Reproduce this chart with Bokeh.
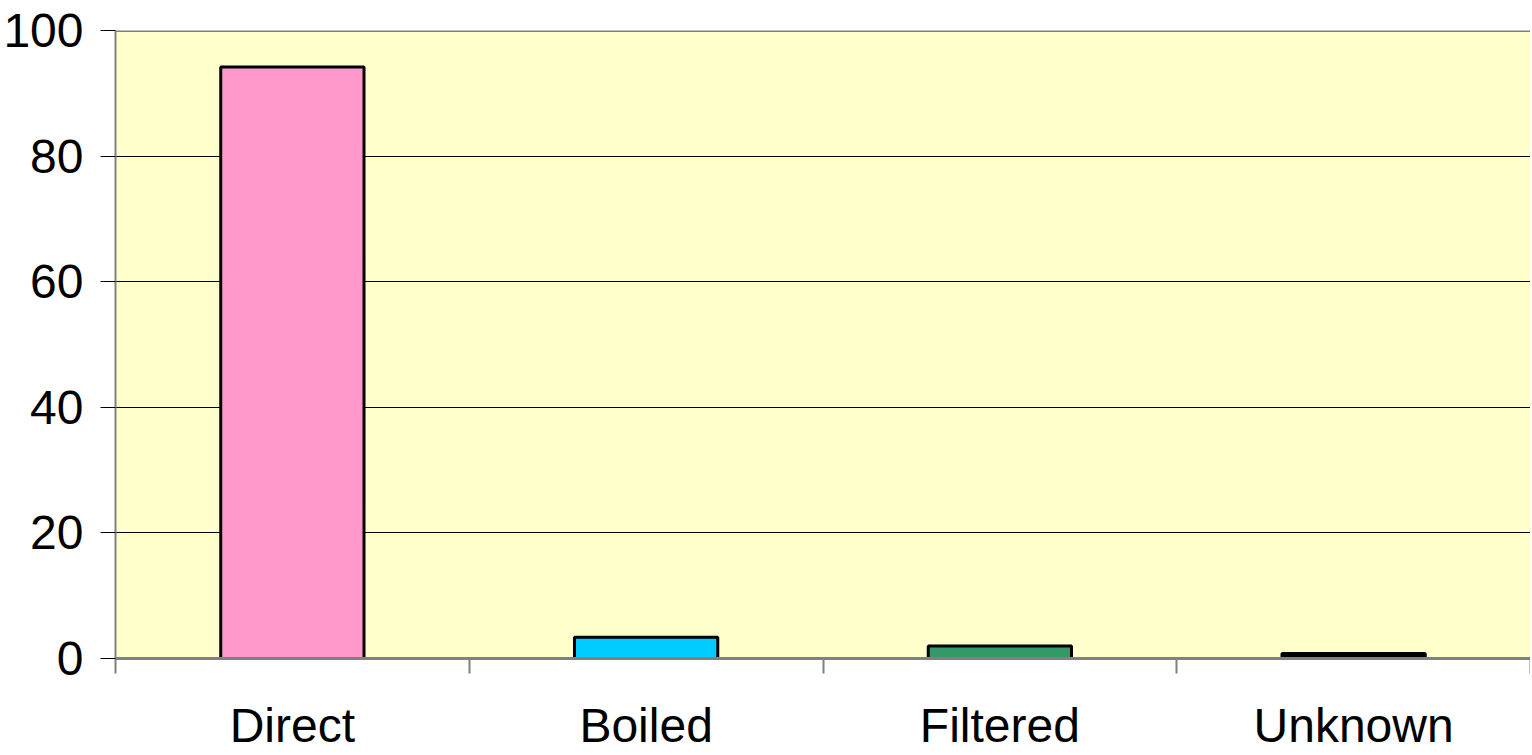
from bokeh.plotting import figure
from bokeh.models import Range1d, FixedTicker, LinearAxis, Span, ColumnDataSource
from bokeh.embed import file_html
from bokeh.resources import INLINE

categories = ["Direct", "Boiled", "Filtered", "Unknown"]
values = [94.2, 3.4, 2.0, 0.8]
colors = ["#FF99CC", "#00CCFF", "#339966", "#000000"]
y_ticks = [0, 20, 40, 60, 80, 100]

FONT = "Liberation Sans"

x_pos = [i + 0.5 for i in range(len(categories))]
boundaries = list(range(len(categories) + 1))
src = ColumnDataSource(dict(x=x_pos, top=values, color=colors, cat=categories))

p = figure(width=1530, height=754, output_backend="svg", toolbar_location=None,
           x_range=Range1d(0, len(categories)), y_range=Range1d(0, 100),
           x_axis_location=None, y_axis_location=None,
           min_border_left=114, min_border_top=30, min_border_right=0, min_border_bottom=60)
p.background_fill_color = "#FFFFCC"
p.outline_line_color = None
p.border_fill_color = "white"

p.vbar(x="x", top="top", width=0.405, bottom=0, fill_color="color",
       line_color="black", line_width=3, source=src)

# y axis
ya = LinearAxis(ticker=FixedTicker(ticks=y_ticks))
ya.axis_line_color = "#808080"
ya.axis_line_width = 2
ya.major_tick_line_color = "black"
ya.major_tick_out = 15
ya.major_tick_in = 0
ya.minor_tick_line_color = None
ya.major_label_text_font = FONT
ya.major_label_text_font_size = "48px"
ya.major_label_text_color = "black"
ya.major_label_standoff = 17
p.add_layout(ya, "left")

# x axis: boundary ticks as minor ticks, category labels at centres
xa = LinearAxis(ticker=FixedTicker(ticks=x_pos, minor_ticks=boundaries),
                major_label_overrides={x: c for x, c in zip(x_pos, categories)})
xa.axis_line_color = "#808080"
xa.axis_line_width = 3
xa.major_tick_line_color = None
xa.major_tick_out = 0
xa.major_tick_in = 0
xa.minor_tick_line_color = "#808080"
xa.minor_tick_line_width = 2
xa.minor_tick_out = 15
xa.minor_tick_in = 0
xa.major_label_text_font = FONT
xa.major_label_text_font_size = "48px"
xa.major_label_text_color = "black"
xa.major_label_standoff = 25
p.add_layout(xa, "below")

p.xgrid.visible = False
p.ygrid.ticker = FixedTicker(ticks=y_ticks[1:-1])
p.ygrid.grid_line_color = "black"
p.ygrid.grid_line_width = 1

p.add_layout(Span(location=100, dimension="width", line_color="#808080", line_width=3))

open("out.html", "w").write(file_html(p, INLINE))
